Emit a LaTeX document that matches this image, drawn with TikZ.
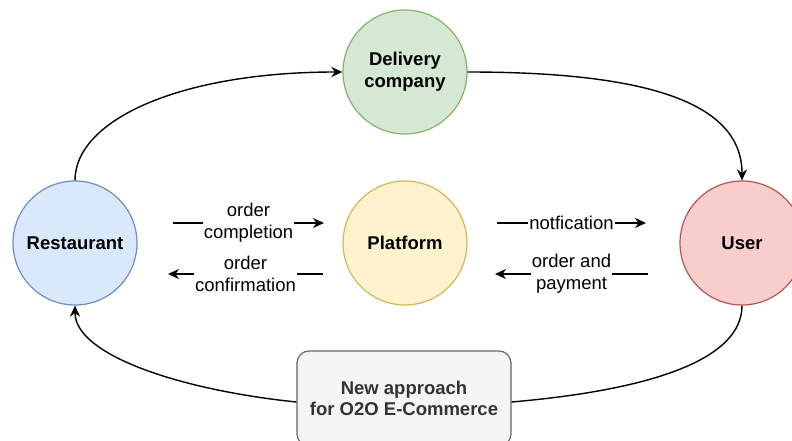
\documentclass[tikz,border=0pt]{standalone}
\usepackage{fontspec}
\setmainfont{Liberation Sans}
\usetikzlibrary{arrows.meta}
\definecolor{bluef}{HTML}{DAE8FC}\definecolor{blued}{HTML}{6C8EBF}
\definecolor{greenf}{HTML}{D5E8D4}\definecolor{greend}{HTML}{82B366}
\definecolor{yellowf}{HTML}{FFF2CC}\definecolor{yellowd}{HTML}{D6B656}
\definecolor{redf}{HTML}{F8CECC}\definecolor{redd}{HTML}{B85450}
\definecolor{grayf}{HTML}{F5F5F5}\definecolor{grayd}{HTML}{666666}
\definecolor{grayt}{HTML}{333333}
\tikzset{
  ent/.style={circle, minimum size=124pt, inner sep=0pt, line width=1.2pt, align=center,
    font=\fontsize{18.5}{22}\selectfont\bfseries},
  conn/.style={line width=1.4pt, -{Stealth[length=11pt,width=10pt,inset=3.5pt]}},
  plain/.style={line width=1.4pt},
  lbl/.style={fill=white, inner sep=1pt, align=center, font=\fontsize{18.5}{22}\selectfont},
}
\begin{document}
\begin{tikzpicture}[x=1pt,y=-1pt]
\useasboundingbox (0,0) rectangle (792,441);
\clip (0,0) rectangle (792,441);
\node[ent, fill=bluef, draw=blued] (rest) at (75,243) {Restaurant};
\node[ent, fill=greenf, draw=greend] (deliv) at (405,72) {Delivery\\company};
\node[ent, fill=yellowf, draw=yellowd] (plat) at (405,243) {Platform};
\node[ent, fill=redf, draw=redd] (user) at (742,243) {User};
\node[draw=grayd, fill=grayf, rounded corners=12pt, line width=1.2pt, minimum width=214pt,
  minimum height=95pt, align=center, text=grayt,
  font=\fontsize{18.5}{21.5}\selectfont\bfseries] (box) at (404,398.5) {New approach\\for O2O E-Commerce};

\draw[conn] (rest.north) .. controls (75,120) and (180,72) .. (deliv.west);
\draw[conn] (deliv.east) .. controls (640,72) and (742,100) .. (user.north);
\draw[plain] (user.south) .. controls (742,360) and (650,390) .. ([yshift=-3.5pt]box.east);
\draw[conn] ([yshift=-3.5pt]box.west) .. controls (180,390) and (75,355) .. (rest.south);

\coordinate (a1) at (173,223); \coordinate (a2) at (324,223);
\draw[conn] (a1) -- node[lbl] (l1) {order\\completion} (a2);
\coordinate (b1) at (323,274); \coordinate (b2) at (168,274);
\draw[conn] (b1) -- node[lbl] (l2) {order\\confirmation} (b2);
\coordinate (c1) at (497,223); \coordinate (c2) at (646,223);
\draw[conn] (c1) -- node[lbl] (l3) {notfication} (c2);
\coordinate (d1) at (648,274); \coordinate (d2) at (495,274);
\draw[conn] (d1) -- node[lbl] (l4) {order and\\payment} (d2);
\end{tikzpicture}
\end{document}
